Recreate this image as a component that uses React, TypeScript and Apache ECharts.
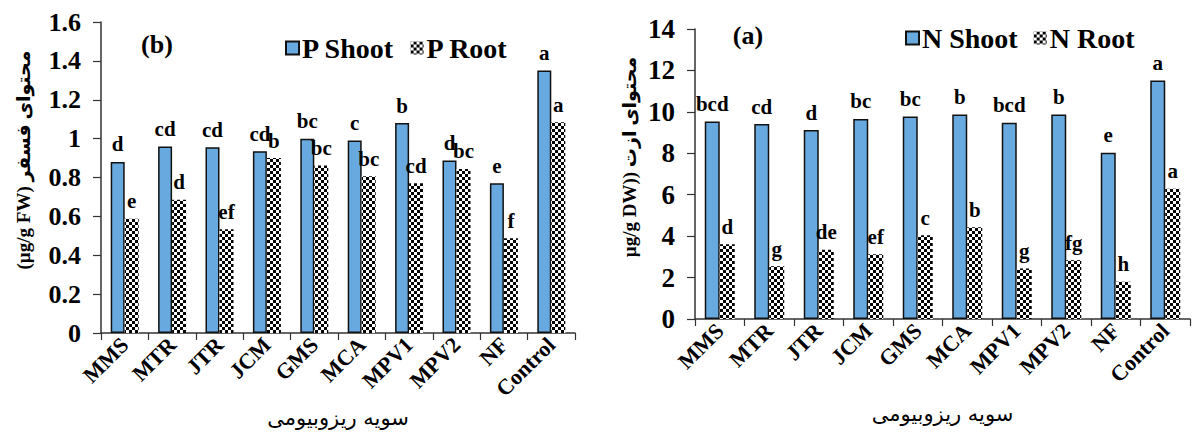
import React, { useEffect, useRef } from "react";
import * as echarts from "echarts";

const categories = ["MMS", "MTR", "JTR", "JCM", "GMS", "MCA", "MPV1", "MPV2", "NF", "Control"];

const pShoot = [0.88, 0.96, 0.955, 0.935, 1.0, 0.99, 1.08, 0.887, 0.77, 1.35];
const pRoot = [0.588, 0.686, 0.534, 0.9, 0.862, 0.806, 0.77, 0.844, 0.488, 1.084];
const pShootLetters = ["d", "cd", "cd", "cd", "bc", "c", "b", "d", "e", "a"];
const pRootLetters = ["e", "d", "ef", "b", "bc", "bc", "cd", "bc", "f", "a"];

const nShoot = [9.53, 9.41, 9.12, 9.66, 9.78, 9.87, 9.47, 9.87, 8.03, 11.51];
const nRoot = [3.61, 2.55, 3.34, 3.13, 4.04, 4.43, 2.44, 2.84, 1.8, 6.29];
const nShootLetters = ["bcd", "cd", "d", "bc", "bc", "b", "bcd", "b", "e", "a"];
const nRootLetters = ["d", "g", "de", "ef", "c", "b", "g", "fg", "h", "a"];

const pTitle = "(µg/g FW) محتوای فسفر";
const nTitle = "µg/g DW)) محتوای ازت";
const xTitle = "سویه ریزوبیومی";

const SERIF = "Liberation Serif";
const PERSIAN = "DejaVu Sans";
const BLUE = "#68A9DF";

const checker = {
  symbol: "rect",
  symbolSize: 1,
  color: "#000",
  backgroundColor: "#fff",
  dashArrayX: [
    [3, 3],
    [0, 3, 3, 0],
  ],
  dashArrayY: [3, 0],
  rotation: 0,
};

function letterLabel(letters: string[]) {
  return {
    show: true,
    position: "top",
    distance: 7,
    color: "#000",
    fontFamily: SERIF,
    fontWeight: "bold",
    fontSize: 21,
    formatter: (p: any) => letters[p.dataIndex],
  };
}

export default function App() {
  const ref = useRef<HTMLDivElement>(null);
  useEffect(() => {
    if (!ref.current) return;
    const chart = echarts.init(ref.current, undefined, { renderer: "svg" });
    const axisLine = { lineStyle: { color: "#333", width: 1.5 } };
    const xAxisCommon = (gridIndex: number) => ({
      type: "category",
      gridIndex,
      data: categories,
      axisLine,
      axisTick: { show: true, length: 7, lineStyle: { color: "#333", width: 1.2 } },
      axisLabel: {
        interval: 0,
        rotate: 45,
        margin: 8,
        color: "#000",
        fontFamily: SERIF,
        fontWeight: "bold",
        fontSize: 22,
      },
      name: xTitle,
      nameLocation: "middle",
      nameTextStyle: {
        color: "#000",
        fontFamily: PERSIAN,
        fontSize: 21,
      },
    });
    const yAxisCommon = (gridIndex: number, max: number, interval: number, fontSize: number) => ({
      type: "value",
      gridIndex,
      min: 0,
      max,
      interval,
      splitLine: { show: false },
      axisLine: { show: true, ...axisLine },
      axisTick: { show: true, length: 8, lineStyle: { color: "#333", width: 1.2 } },
      axisLabel: {
        color: "#000",
        fontFamily: SERIF,
        fontWeight: "bold",
        fontSize,
        margin: 20,
      },
    });
    const legendText = { color: "#000", fontFamily: SERIF, fontWeight: "bold", fontSize: 28, padding: [0, 0, 0, -2] };
    chart.setOption({
      animation: false,
      backgroundColor: "#fff",
      grid: [
        { left: 101, right: 620, top: 22, bottom: 101, containLabel: false },
        { left: 695, right: 5, top: 29, bottom: 115, containLabel: false },
      ],
      legend: [
        {
          data: ["P Shoot", "P Root"],
          left: 280,
          top: 29,
          itemWidth: 13,
          itemHeight: 13,
          itemGap: 16,
          icon: "rect",
          textStyle: legendText,
        },
        {
          data: ["N Shoot", "N Root"],
          left: 900,
          top: 19,
          itemWidth: 13,
          itemHeight: 13,
          itemGap: 16,
          icon: "rect",
          textStyle: legendText,
        },
      ],
      xAxis: [
        { ...xAxisCommon(0), nameGap: 70 },
        { ...xAxisCommon(1), nameGap: 84 },
      ],
      yAxis: [yAxisCommon(0, 1.6, 0.2, 26), yAxisCommon(1, 14, 2, 27)],
      graphic: [
        {
          type: "text",
          x: 157,
          y: 44,
          style: { text: "(b)", fill: "#000", font: `bold 26px ${SERIF}`, align: "center", verticalAlign: "middle" },
        },
        {
          type: "text",
          x: 748,
          y: 35,
          style: { text: "(a)", fill: "#000", font: `bold 26px ${SERIF}`, align: "center", verticalAlign: "middle" },
        },
        {
          type: "text",
          x: 23,
          y: 160,
          rotation: Math.PI / 2,
          style: {
            text: pTitle,
            fill: "#000",
            font: `bold 19px ${SERIF}, ${PERSIAN}`,
            align: "center",
            verticalAlign: "middle",
          },
        },
        {
          type: "text",
          x: 629,
          y: 157,
          rotation: Math.PI / 2,
          style: {
            text: nTitle,
            fill: "#000",
            font: `bold 19px ${SERIF}, ${PERSIAN}`,
            align: "center",
            verticalAlign: "middle",
          },
        },
      ],
      series: [
        {
          name: "P Shoot",
          type: "bar",
          xAxisIndex: 0,
          yAxisIndex: 0,
          data: pShoot,
          barWidth: 14,
          barGap: "0%",
          itemStyle: { color: BLUE, borderColor: "#111", borderWidth: 1.5 },
          label: letterLabel(pShootLetters),
        },
        {
          name: "P Root",
          type: "bar",
          xAxisIndex: 0,
          yAxisIndex: 0,
          data: pRoot,
          barWidth: 14,
          barGap: "0%",
          itemStyle: { color: "#fff", decal: checker },
          label: letterLabel(pRootLetters),
        },
        {
          name: "N Shoot",
          type: "bar",
          xAxisIndex: 1,
          yAxisIndex: 1,
          data: nShoot,
          barWidth: 15,
          barGap: "0%",
          itemStyle: { color: BLUE, borderColor: "#111", borderWidth: 1.5 },
          label: letterLabel(nShootLetters),
        },
        {
          name: "N Root",
          type: "bar",
          xAxisIndex: 1,
          yAxisIndex: 1,
          data: nRoot,
          barWidth: 15,
          barGap: "0%",
          itemStyle: { color: "#fff", decal: checker },
          label: letterLabel(nRootLetters),
        },
      ],
    });
    return () => chart.dispose();
  }, []);
  return (
    <div
      ref={ref}
      style={{ position: "absolute", left: 0, top: 0, width: 1195, height: 434, background: "#fff" }}
    />
  );
}
